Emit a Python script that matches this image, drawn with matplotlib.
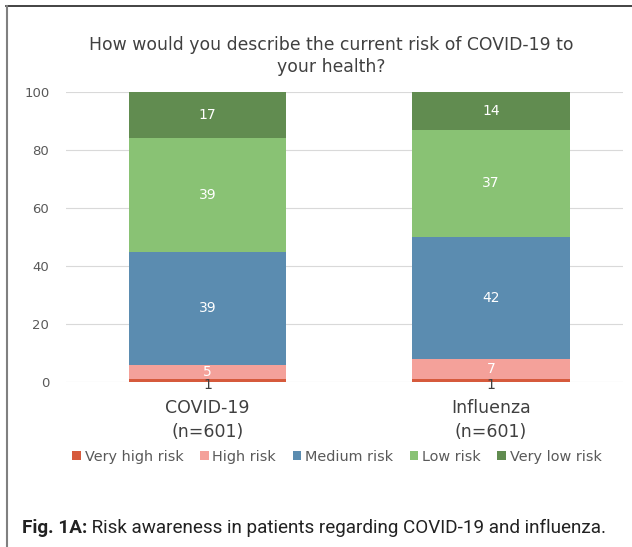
import matplotlib.pyplot as plt
from matplotlib.lines import Line2D
import numpy as np

# data (percent of patients)
groups = ["COVID-19\n(n=601)", "Influenza\n(n=601)"]
categories = ["Very high risk", "High risk", "Medium risk", "Low risk", "Very low risk"]
very_high = [1, 1]
high = [5, 7]
medium = [39, 42]
low = [39, 37]
very_low = [17, 14]
yticks = [0, 20, 40, 60, 80, 100]

colors = ["#d65a3c", "#f4a19a", "#5b8cb0", "#89c274", "#618c50"]
label_colors = ["#404040", "white", "white", "white", "white"]

series = [very_high, high, medium, low, very_low]

fig = plt.figure(figsize=(6.32, 5.47), dpi=100)
ax = fig.add_axes([66 / 632, 1 - 382 / 547, 557 / 632, 290 / 547])

x = np.arange(len(groups))
bottom = np.zeros(len(groups))
for vals, name, col, lcol in zip(series, categories, colors, label_colors):
    vals = np.array(vals, dtype=float)
    bars = ax.bar(x, vals, width=0.555, bottom=bottom, color=col, label=name, zorder=3)
    for b, v, bt in zip(bars, vals, bottom):
        yc = bt + v / 2
        if bt + v > 100:
            yc = bt + (100 - bt) / 2
        if name == "Very high risk":
            yc = bt - 1.2
        ax.text(b.get_x() + b.get_width() / 2, yc, f"{int(v)}", ha="center", va="center",
                color=lcol, fontsize=10, zorder=4)
    bottom += vals

ax.set_ylim(0, 100)
ax.set_xlim(-0.5, 1.466)
ax.set_yticks(yticks)
ax.set_xticks(x)
ax.set_xticklabels(groups, fontsize=12.5, color="#404040", linespacing=1.45)
ax.tick_params(axis="y", length=0, labelsize=9.5, labelcolor="#595959", pad=12)
ax.tick_params(axis="x", length=0, pad=12)
ax.yaxis.grid(True, color="#d9d9d9", linewidth=0.8, zorder=0)
for s in ax.spines.values():
    s.set_visible(False)

fig.text(331 / 632, 1 - 56 / 547, "How would you describe the current risk of COVID-19 to\nyour health?",
         ha="center", va="center", fontsize=12.4, color="#404040", linespacing=1.3)

leg = fig.legend(loc="center", bbox_to_anchor=(337 / 632, 1 - 457 / 547), ncol=5, frameon=False,
                 fontsize=10.4, handlelength=0.6, handleheight=0.6, handletextpad=0.25,
                 columnspacing=1.15, labelcolor="#595959")

# caption: bold lead-in then regular text, squeezed to the reference width
cap_y = 1 - 528 / 547
lead = fig.text(22 / 632, cap_y, "Fig. 1A:", ha="left", va="center", fontsize=12.5,
                fontweight="bold", color="#222222", family="Roboto")
rest = fig.text(0, cap_y, " Risk awareness in patients regarding COVID-19 and influenza.",
                ha="left", va="center", fontsize=12.5, color="#222222", family="Roboto")
fig.canvas.draw()
r = fig.canvas.get_renderer()
w_total = lead.get_window_extent(r).width + rest.get_window_extent(r).width
scale = 588 / w_total
lead.set_fontsize(12.5 * scale)
rest.set_fontsize(12.5 * scale)
fig.canvas.draw()
lw = lead.get_window_extent(r).width
rest.set_x((22 + lw) / 632)

# frame of the figure box
fig.add_artist(Line2D([6 / 632, 1], [1 - 6 / 547, 1 - 6 / 547], color="#222222", linewidth=1.2))
fig.add_artist(Line2D([7 / 632, 7 / 632], [0, 1 - 6 / 547], color="#808080", linewidth=1.5))

fig.savefig("out.png", dpi=100)
